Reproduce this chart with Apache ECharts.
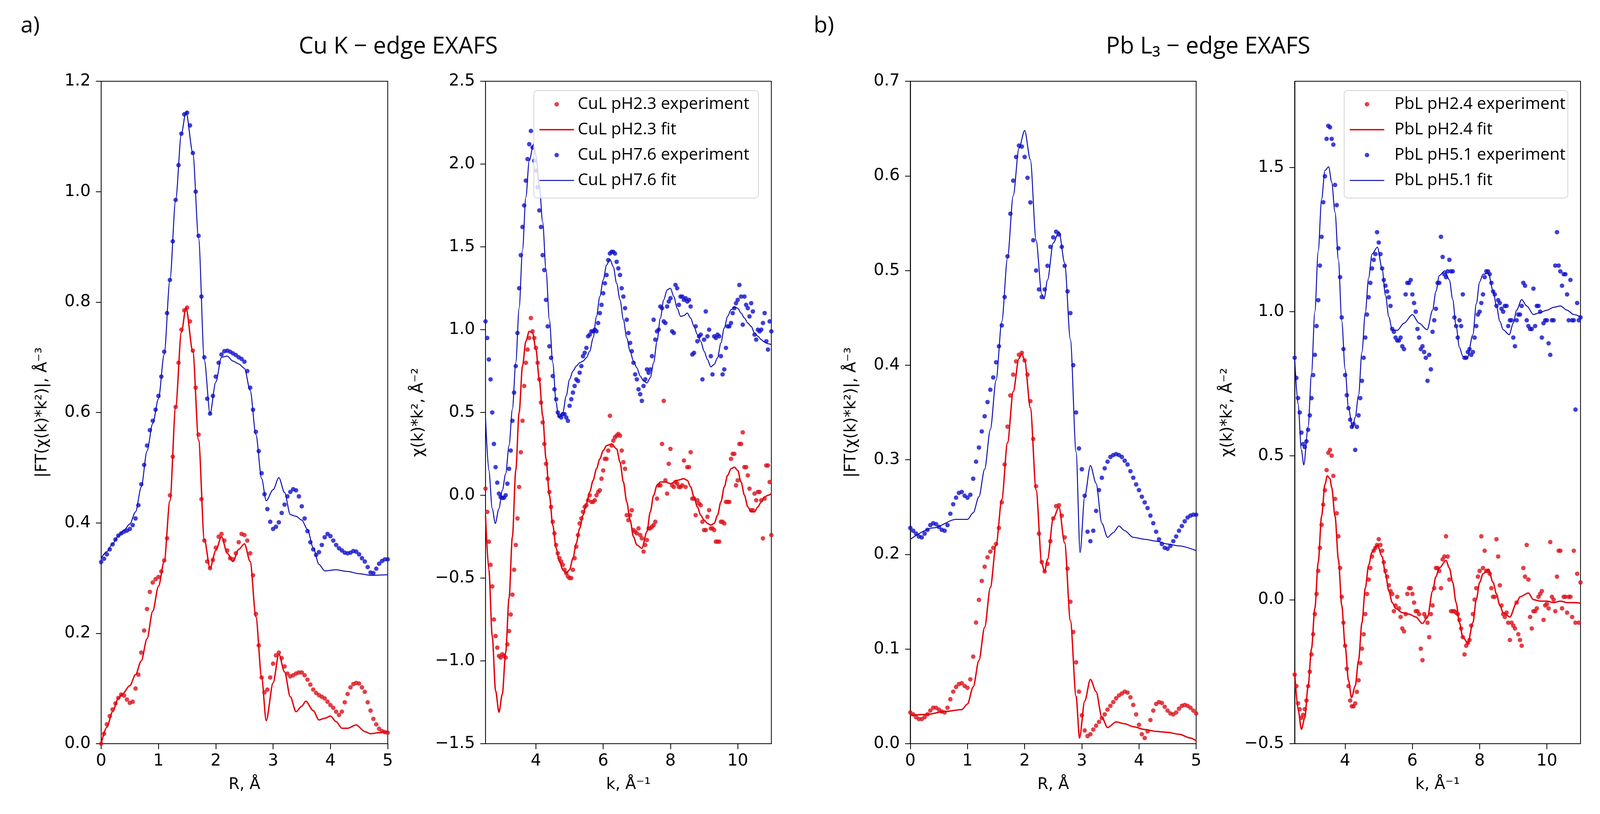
<!DOCTYPE html>
<html>
<head>
<meta charset="utf-8">
<script src="https://cdn.jsdelivr.net/npm/echarts@6/dist/echarts.min.js"></script>
<style>
  html, body { margin: 0; padding: 0; background: #fff; overflow: hidden; }
  #chart { width: 100vw; height: 100vh; }
</style>
</head>
<body>
<div id="chart"></div>
<script>
// ---- data ----
// R-space panels: experiment sampled every 0.05 Å from R = 0
const rStart = 0, rStep = 0.05;
// k-space panels: experiment sampled every 0.05 Å^-1 from k = 2.5
const kStart = 2.5, kStep = 0.05;

const cuRBlueExp = [
  0.329,0.335,0.343,0.352,0.361,0.370,0.377,0.381,0.384,0.386,
  0.389,0.396,0.408,0.432,0.470,0.505,0.540,0.568,0.585,0.605,
  0.630,0.665,0.710,0.780,0.840,0.910,0.985,1.048,1.105,1.140,
  1.143,1.120,1.070,1.000,0.920,0.810,0.700,0.625,0.598,0.630,
  0.665,0.690,0.705,0.711,0.712,0.710,0.707,0.704,0.700,0.697,
  0.692,0.675,0.645,0.605,0.565,0.530,0.490,0.452,0.425,0.402,
  0.389,0.393,0.401,0.418,0.433,0.448,0.456,0.461,0.459,0.448,
  0.430,0.408,0.385,0.365,0.352,0.342,0.347,0.360,0.374,0.380,
  0.376,0.368,0.360,0.354,0.350,0.346,0.345,0.346,0.349,0.348,
  0.343,0.336,0.330,0.320,0.310,0.309,0.317,0.326,0.331,0.334,
  0.334
];
const cuRRedExp = [
  0.000,0.018,0.035,0.050,0.062,0.073,0.083,0.089,0.087,0.080,
  0.074,0.076,0.100,0.125,0.165,0.205,0.244,0.275,0.292,0.298,
  0.302,0.312,0.332,0.372,0.450,0.520,0.610,0.690,0.750,0.785,
  0.790,0.765,0.712,0.645,0.560,0.443,0.368,0.330,0.318,0.333,
  0.355,0.375,0.380,0.368,0.350,0.336,0.334,0.345,0.365,0.380,
  0.378,0.368,0.345,0.305,0.235,0.178,0.120,0.093,0.098,0.120,
  0.145,0.160,0.165,0.155,0.140,0.127,0.122,0.124,0.127,0.129,
  0.129,0.124,0.116,0.107,0.098,0.092,0.088,0.085,0.082,0.076,
  0.070,0.065,0.058,0.052,0.058,0.075,0.090,0.102,0.108,0.110,
  0.109,0.102,0.094,0.075,0.060,0.045,0.035,0.027,0.023,0.021,
  0.020
];
const cuRBlueFit = [[0,0.336],[0.1,0.348],[0.2,0.362],[0.3,0.376],[0.4,0.387],[0.5,0.398],[0.6,0.42],[0.7,0.465],[0.8,0.53],[0.9,0.58],[1.0,0.625],[1.1,0.705],[1.2,0.84],[1.3,0.985],[1.4,1.105],[1.48,1.145],[1.6,1.07],[1.7,0.915],[1.8,0.695],[1.9,0.598],[2.0,0.655],[2.1,0.7],[2.2,0.702],[2.3,0.693],[2.4,0.688],[2.5,0.68],[2.6,0.64],[2.7,0.56],[2.8,0.48],[2.88,0.44],[3.0,0.46],[3.1,0.482],[3.2,0.455],[3.3,0.415],[3.4,0.412],[3.5,0.405],[3.6,0.388],[3.7,0.355],[3.8,0.325],[3.9,0.313],[4.1,0.315],[4.3,0.312],[4.5,0.308],[4.7,0.305],[5.0,0.306]];
const cuRRedFit = [[0,0],[0.1,0.03],[0.2,0.058],[0.3,0.082],[0.37,0.09],[0.5,0.105],[0.6,0.125],[0.7,0.15],[0.8,0.19],[0.9,0.24],[1.0,0.285],[1.1,0.33],[1.2,0.44],[1.3,0.61],[1.4,0.745],[1.48,0.79],[1.6,0.71],[1.7,0.55],[1.8,0.37],[1.9,0.318],[2.0,0.35],[2.1,0.375],[2.2,0.345],[2.3,0.33],[2.4,0.352],[2.5,0.362],[2.6,0.33],[2.7,0.23],[2.8,0.12],[2.88,0.042],[3.0,0.11],[3.1,0.162],[3.2,0.13],[3.3,0.085],[3.4,0.058],[3.5,0.068],[3.57,0.077],[3.7,0.06],[3.8,0.043],[3.9,0.046],[4.0,0.05],[4.1,0.04],[4.2,0.028],[4.3,0.028],[4.45,0.034],[4.6,0.022],[4.7,0.018],[4.85,0.02],[5.0,0.022]];

const cuKBlueExp = [
  1.05,0.95,0.82,0.70,0.50,0.31,0.17,0.076,0.01,-0.01,
  -0.016,-0.015,0.0,0.07,0.16,0.27,0.45,0.62,0.78,0.98,
  1.25,1.45,1.62,1.75,1.90,2.03,2.12,2.20,2.10,2.02,
  1.96,1.86,1.72,1.62,1.45,1.36,1.18,1.02,0.90,0.83,
  0.72,0.64,0.58,0.50,0.48,0.47,0.49,0.49,0.47,0.45,
  0.54,0.58,0.62,0.66,0.70,0.69,0.74,0.78,0.84,0.86,
  0.89,0.96,0.97,0.99,0.99,1.00,0.99,1.04,1.10,1.15,
  1.22,1.28,1.33,1.42,1.46,1.47,1.47,1.46,1.41,1.37,
  1.33,1.25,1.20,1.13,1.06,0.98,0.92,0.87,0.80,0.73,
  0.70,0.64,0.61,0.57,0.66,0.70,0.76,0.74,0.76,0.84,
  1.06,0.94,0.99,1.00,1.14,1.13,1.05,1.04,1.14,1.17,
  1.19,0.99,0.98,1.27,1.25,1.15,1.20,1.20,1.18,1.19,
  1.17,1.18,1.14,0.85,0.86,1.02,0.93,0.96,0.97,0.70,
  0.94,1.11,0.96,1.00,0.84,0.73,0.96,0.95,0.97,0.96,
  0.84,0.73,0.76,0.89,1.02,1.02,1.04,1.10,1.13,1.16,
  1.18,1.27,1.20,1.03,1.20,1.15,1.13,1.08,1.16,1.11,
  0.97,0.94,1.00,0.99,1.00,1.04,1.10,0.93,0.88,1.05,
  0.99
];
const cuKRedExp = [
  0.04,-0.10,-0.28,-0.42,-0.55,-0.75,-0.85,-0.92,-0.97,-0.98,
  -0.96,-0.97,-0.98,-0.90,-0.82,-0.72,-0.60,-0.45,-0.30,-0.14,
  0.05,0.26,0.45,0.66,0.80,0.88,0.95,1.07,0.99,0.95,
  0.89,0.80,0.70,0.56,0.44,0.31,0.19,0.10,0.02,-0.07,
  -0.16,-0.23,-0.30,-0.35,-0.38,-0.40,-0.42,-0.45,-0.47,-0.49,
  -0.50,-0.50,-0.45,-0.38,-0.31,-0.24,-0.17,-0.14,-0.10,-0.07,
  -0.06,-0.03,0.00,-0.04,-0.04,-0.03,0.00,0.02,0.03,0.10,
  0.15,0.22,0.22,0.27,0.48,0.30,0.33,0.35,0.36,0.37,
  0.36,0.27,0.20,0.16,-0.12,-0.15,-0.12,-0.09,-0.21,-0.22,
  -0.23,-0.20,-0.24,-0.26,-0.34,-0.30,-0.27,-0.20,-0.20,-0.19,
  -0.18,-0.16,-0.02,0.06,0.06,0.31,0.57,0.09,0.01,0.19,
  0.28,0.06,0.05,0.08,0.07,0.05,0.05,0.06,0.21,0.05,
  0.17,0.17,0.26,-0.02,-0.02,-0.12,-0.03,-0.05,-0.06,-0.16,
  -0.21,-0.21,-0.13,-0.09,-0.20,-0.20,-0.21,-0.28,-0.28,-0.28,
  -0.16,-0.16,-0.17,-0.04,-0.04,-0.04,0.22,0.25,0.25,0.06,
  0.09,0.31,0.31,0.38,0.17,0.17,0.12,0.04,-0.09,-0.09,
  0.01,-0.03,0.02,0.02,-0.03,-0.26,-0.02,0.18,0.18,0.08,
  -0.24
];
const cuKBlueFit = [[2.5,0.47],[2.6,0.15],[2.7,-0.08],[2.79,-0.17],[2.9,-0.08],[3.0,0.03],[3.1,0.13],[3.2,0.3],[3.3,0.52],[3.4,0.8],[3.5,1.13],[3.6,1.48],[3.7,1.8],[3.8,2.02],[3.93,2.12],[4.0,2.05],[4.1,1.87],[4.2,1.65],[4.3,1.36],[4.4,1.06],[4.5,0.8],[4.6,0.56],[4.67,0.47],[4.8,0.5],[4.9,0.6],[5.0,0.7],[5.1,0.75],[5.2,0.78],[5.3,0.8],[5.4,0.81],[5.5,0.83],[5.6,0.87],[5.7,0.95],[5.8,1.08],[5.9,1.2],[6.0,1.3],[6.1,1.39],[6.2,1.425],[6.3,1.38],[6.4,1.28],[6.5,1.18],[6.6,1.06],[6.7,0.95],[6.8,0.87],[6.9,0.81],[7.0,0.77],[7.1,0.72],[7.2,0.69],[7.3,0.678],[7.4,0.71],[7.5,0.8],[7.6,0.93],[7.7,1.07],[7.8,1.18],[7.9,1.24],[8.0,1.25],[8.1,1.2],[8.2,1.13],[8.3,1.08],[8.4,1.085],[8.5,1.1],[8.6,1.07],[8.7,1.02],[8.8,0.97],[8.9,0.93],[9.0,0.87],[9.1,0.82],[9.2,0.775],[9.3,0.79],[9.4,0.83],[9.5,0.92],[9.6,1.01],[9.7,1.08],[9.8,1.12],[9.9,1.135],[10.0,1.13],[10.1,1.1],[10.2,1.07],[10.3,1.04],[10.4,1.02],[10.5,0.98],[10.6,0.96],[10.7,0.94],[10.8,0.925],[10.9,0.915],[11.0,0.91]];
const cuKRedFit = [[2.5,-0.12],[2.6,-0.45],[2.7,-0.85],[2.8,-1.18],[2.9,-1.31],[3.0,-1.2],[3.1,-0.95],[3.2,-0.62],[3.3,-0.25],[3.4,0.15],[3.5,0.5],[3.6,0.78],[3.7,0.93],[3.8,0.99],[3.9,0.98],[4.0,0.88],[4.1,0.7],[4.2,0.48],[4.3,0.22],[4.4,0.0],[4.5,-0.18],[4.6,-0.32],[4.7,-0.4],[4.8,-0.45],[4.9,-0.47],[5.0,-0.45],[5.1,-0.38],[5.2,-0.29],[5.3,-0.2],[5.4,-0.12],[5.5,-0.05],[5.6,0.02],[5.7,0.09],[5.8,0.16],[5.9,0.22],[6.0,0.27],[6.1,0.3],[6.25,0.31],[6.4,0.28],[6.5,0.2],[6.6,0.08],[6.7,-0.04],[6.8,-0.15],[6.9,-0.25],[7.0,-0.3],[7.15,-0.32],[7.3,-0.22],[7.4,-0.1],[7.5,0.0],[7.6,0.06],[7.7,0.08],[7.85,0.08],[8.0,0.07],[8.2,0.09],[8.4,0.1],[8.5,0.09],[8.6,0.05],[8.7,-0.01],[8.8,-0.07],[8.9,-0.12],[9.0,-0.15],[9.1,-0.17],[9.2,-0.18],[9.3,-0.17],[9.4,-0.12],[9.5,-0.04],[9.6,0.05],[9.7,0.12],[9.8,0.16],[9.9,0.17],[10.0,0.15],[10.1,0.08],[10.2,0.0],[10.3,-0.07],[10.4,-0.1],[10.5,-0.1],[10.6,-0.07],[10.7,-0.04],[10.8,-0.01],[10.9,0.0],[11.0,0.01]];

const pbRBlueExp = [
  0.228,0.225,0.222,0.219,0.218,0.222,0.226,0.231,0.233,0.232,
  0.229,0.226,0.225,0.231,0.243,0.253,0.260,0.265,0.266,0.262,
  0.260,0.263,0.280,0.298,0.313,0.330,0.346,0.361,0.374,0.387,
  0.403,0.420,0.442,0.472,0.515,0.560,0.595,0.620,0.632,0.631,
  0.620,0.598,0.572,0.532,0.500,0.480,0.472,0.480,0.505,0.525,
  0.535,0.541,0.538,0.525,0.505,0.478,0.455,0.400,0.350,0.312,
  0.290,0.262,0.224,0.214,0.225,0.246,0.268,0.281,0.291,0.298,
  0.303,0.305,0.306,0.305,0.303,0.299,0.295,0.288,0.281,0.274,
  0.268,0.261,0.255,0.249,0.241,0.233,0.224,0.216,0.211,0.207,
  0.206,0.209,0.214,0.219,0.225,0.230,0.235,0.239,0.241,0.242,
  0.242
];
const pbRRedExp = [
  0.033,0.031,0.028,0.026,0.026,0.028,0.031,0.035,0.038,0.038,
  0.036,0.034,0.033,0.038,0.047,0.055,0.060,0.063,0.064,0.061,
  0.059,0.068,0.092,0.128,0.152,0.172,0.187,0.197,0.203,0.207,
  0.211,0.228,0.255,0.295,0.335,0.368,0.390,0.404,0.411,0.413,
  0.405,0.390,0.362,0.322,0.272,0.222,0.192,0.182,0.190,0.214,
  0.238,0.251,0.252,0.241,0.218,0.185,0.150,0.118,0.086,0.055,
  0.030,0.014,0.008,0.010,0.015,0.019,0.023,0.027,0.031,0.036,
  0.040,0.044,0.048,0.051,0.053,0.055,0.054,0.049,0.041,0.031,
  0.020,0.010,0.006,0.013,0.025,0.035,0.042,0.044,0.043,0.039,
  0.035,0.032,0.031,0.033,0.037,0.040,0.041,0.040,0.038,0.035,
  0.032
];
const pbRBlueFit = [[0,0.216],[0.4,0.228],[0.8,0.237],[1.0,0.237],[1.1,0.244],[1.2,0.261],[1.3,0.29],[1.4,0.332],[1.5,0.384],[1.6,0.446],[1.7,0.513],[1.8,0.579],[1.9,0.629],[2.0,0.648],[2.1,0.617],[2.2,0.532],[2.3,0.475],[2.34,0.47],[2.4,0.49],[2.5,0.529],[2.6,0.541],[2.7,0.508],[2.8,0.427],[2.9,0.308],[2.97,0.202],[3.05,0.261],[3.15,0.294],[3.25,0.275],[3.35,0.233],[3.45,0.218],[3.55,0.223],[3.65,0.23],[3.75,0.225],[3.9,0.218],[4.1,0.216],[4.3,0.214],[4.5,0.211],[4.7,0.209],[5.0,0.204]];
const pbRRedFit = [[0,0.03],[0.3,0.031],[0.6,0.034],[0.9,0.036],[1.0,0.042],[1.1,0.06],[1.2,0.088],[1.3,0.123],[1.4,0.165],[1.5,0.21],[1.6,0.258],[1.7,0.318],[1.8,0.372],[1.9,0.407],[1.95,0.412],[2.0,0.405],[2.1,0.355],[2.2,0.268],[2.3,0.19],[2.35,0.182],[2.4,0.195],[2.5,0.238],[2.6,0.25],[2.7,0.212],[2.8,0.13],[2.9,0.05],[2.96,0.006],[3.05,0.045],[3.15,0.068],[3.25,0.055],[3.35,0.028],[3.45,0.017],[3.6,0.023],[3.75,0.021],[3.9,0.018],[4.1,0.015],[4.3,0.013],[4.5,0.012],[4.7,0.01],[4.9,0.006],[5.0,0.003]];

const pbKBlueExp = [
  0.84,0.77,0.70,0.65,0.58,0.54,0.53,0.55,0.59,0.64,
  0.70,0.78,0.85,0.95,1.04,1.16,1.26,1.38,1.47,1.60,
  1.645,1.64,1.60,1.58,1.44,1.37,1.22,1.12,0.98,0.87,
  0.78,0.71,0.665,0.625,0.60,0.61,0.52,0.60,0.64,0.70,
  0.76,0.84,0.91,0.99,1.05,1.10,1.15,1.18,1.20,1.276,
  1.24,1.20,1.15,1.11,1.09,1.07,1.05,1.02,0.94,0.93,
  0.91,0.90,0.90,0.91,0.88,0.87,1.06,1.10,1.10,1.11,
  1.06,1.03,1.00,0.94,0.91,0.87,0.88,0.86,0.84,0.76,
  0.85,0.80,0.93,0.97,1.01,1.10,1.10,1.26,1.19,1.13,
  1.12,1.14,1.18,1.14,1.14,0.98,0.95,0.91,0.97,0.95,
  1.06,0.84,0.84,0.86,0.87,0.85,0.86,0.91,0.95,0.99,
  1.00,1.03,1.06,1.12,1.14,1.14,1.13,1.10,1.07,1.06,
  1.02,1.04,1.03,1.01,1.00,1.02,1.02,0.95,0.97,0.97,
  0.91,0.88,0.97,0.99,0.99,1.02,1.10,1.09,0.97,0.95,
  0.94,0.94,1.08,0.95,1.02,1.02,1.00,0.91,0.96,0.97,
  0.97,0.89,0.85,0.97,0.97,1.16,1.276,1.16,1.14,1.09,
  1.13,1.13,1.06,0.97,1.11,0.97,0.97,0.66,1.03,0.97,
  0.98
];
const pbKRedExp = [
  -0.26,-0.30,-0.36,-0.38,-0.41,-0.40,-0.38,-0.35,-0.30,-0.25,
  -0.19,-0.12,-0.05,0.02,0.10,0.18,0.26,0.33,0.38,0.45,
  0.51,0.52,0.50,0.43,0.35,0.30,0.22,0.11,0.01,-0.08,
  -0.16,-0.24,-0.30,-0.35,-0.37,-0.37,-0.36,-0.32,-0.28,-0.22,
  -0.17,-0.12,-0.05,0.02,0.07,0.11,0.15,0.17,0.18,0.19,
  0.21,0.19,0.17,0.13,0.10,0.08,0.05,0.03,0.02,-0.04,
  -0.02,0.01,-0.03,-0.06,-0.10,-0.11,-0.05,0.02,0.04,0.04,
  0.02,-0.01,-0.04,-0.04,-0.05,-0.17,-0.21,-0.05,-0.06,-0.08,
  -0.13,-0.05,-0.02,0.04,0.11,0.11,0.10,0.04,0.14,0.15,
  0.22,0.15,0.07,-0.04,-0.04,-0.04,-0.045,-0.05,-0.07,-0.10,
  -0.13,-0.19,-0.16,-0.15,-0.14,-0.09,-0.05,0.00,0.04,0.08,
  0.10,0.22,0.11,0.17,0.10,0.10,0.09,0.04,0.01,0.01,
  0.21,0.15,0.05,-0.02,-0.05,-0.06,-0.045,-0.08,-0.14,-0.08,
  -0.09,-0.10,-0.01,-0.12,-0.14,-0.16,0.11,0.08,0.19,0.07,
  -0.06,-0.10,-0.04,-0.04,-0.03,0.01,0.02,0.03,-0.07,-0.02,
  -0.015,-0.03,0.20,0.01,0.0,-0.04,0.08,0.17,0.17,-0.03,
  0.01,0.01,-0.045,0.01,0.01,-0.06,0.17,-0.08,0.09,-0.08,
  0.06
];
const pbKBlueFit = [[2.5,0.84],[2.6,0.68],[2.7,0.52],[2.77,0.468],[2.9,0.60],[3.0,0.785],[3.1,1.0],[3.2,1.21],[3.3,1.39],[3.4,1.49],[3.51,1.503],[3.6,1.45],[3.7,1.345],[3.8,1.18],[3.9,0.967],[4.0,0.80],[4.1,0.665],[4.22,0.597],[4.3,0.634],[4.4,0.71],[4.5,0.86],[4.6,0.997],[4.7,1.118],[4.8,1.2],[4.96,1.224],[5.1,1.148],[5.2,1.057],[5.3,0.982],[5.4,0.937],[5.55,0.935],[5.75,0.96],[6.0,0.99],[6.2,0.96],[6.44,0.937],[6.6,1.005],[6.7,1.07],[6.8,1.125],[6.96,1.142],[7.1,1.11],[7.2,1.042],[7.3,0.95],[7.4,0.876],[7.5,0.845],[7.63,0.838],[7.8,0.92],[7.9,1.027],[8.0,1.103],[8.1,1.13],[8.26,1.133],[8.4,1.072],[8.5,1.02],[8.6,0.967],[8.7,0.937],[8.88,0.92],[9.0,0.96],[9.1,1.005],[9.25,1.042],[9.4,1.02],[9.6,0.99],[9.8,0.997],[10.0,1.005],[10.2,1.015],[10.4,1.02],[10.6,1.005],[10.8,0.99],[11.0,0.982]];
const pbKRedFit = [[2.5,-0.25],[2.6,-0.38],[2.7,-0.45],[2.8,-0.41],[2.9,-0.30],[3.0,-0.17],[3.1,-0.03],[3.2,0.13],[3.3,0.29],[3.4,0.40],[3.47,0.43],[3.55,0.42],[3.6,0.39],[3.7,0.29],[3.8,0.14],[3.9,-0.02],[4.0,-0.16],[4.1,-0.28],[4.19,-0.34],[4.3,-0.30],[4.4,-0.21],[4.5,-0.08],[4.6,0.04],[4.7,0.12],[4.8,0.165],[4.96,0.189],[5.1,0.15],[5.2,0.09],[5.3,0.03],[5.4,-0.01],[5.5,-0.03],[5.7,-0.045],[5.9,-0.05],[6.1,-0.06],[6.3,-0.083],[6.45,-0.06],[6.6,0.03],[6.7,0.08],[6.8,0.11],[7.0,0.136],[7.1,0.11],[7.2,0.06],[7.3,-0.01],[7.4,-0.08],[7.5,-0.13],[7.65,-0.151],[7.8,-0.08],[7.9,0.0],[8.0,0.06],[8.1,0.09],[8.26,0.106],[8.4,0.06],[8.5,0.02],[8.6,-0.02],[8.7,-0.045],[8.9,-0.06],[9.1,-0.01],[9.2,0.01],[9.45,0.023],[9.6,0.0],[9.8,-0.005],[10.0,-0.005],[10.2,-0.01],[10.4,-0.005],[10.6,-0.01],[10.8,-0.01],[11.0,-0.012]];

// tick values
const rTicks = [0, 1, 2, 3, 4, 5];
const kTicks = [4, 6, 8, 10];
const cuRyTicks = [0, 0.2, 0.4, 0.6, 0.8, 1.0, 1.2];
const cuKyTicks = [-1.5, -1.0, -0.5, 0, 0.5, 1.0, 1.5, 2.0, 2.5];
const pbRyTicks = [0, 0.1, 0.2, 0.3, 0.4, 0.5, 0.6, 0.7];
const pbKyTicks = [-0.5, 0, 0.5, 1.0, 1.5];

const names = {
  cuRed: 'CuL pH2.3 experiment', cuRedFit: 'CuL pH2.3 fit',
  cuBlue: 'CuL pH7.6 experiment', cuBlueFit: 'CuL pH7.6 fit',
  pbRed: 'PbL pH2.4 experiment', pbRedFit: 'PbL pH2.4 fit',
  pbBlue: 'PbL pH5.1 experiment', pbBlueFit: 'PbL pH5.1 fit'
};

// ---- chart ----
// layout is measured on a 4271 x 2084 figure; scale it to the real window
const dom = document.getElementById('chart');
const SX = (dom.clientWidth || 4271) / 4271;
const SY = (dom.clientHeight || 2084) / 2084;
const SF = Math.min(SX, SY);
const X = v => v * SX, Y = v => v * SY, F = v => v * SF;

const RED_DOT = '#dc101a', RED_LINE = '#e4000a';
const BLUE_DOT = '#1010cc', BLUE_LINE = '#0c0cb0';

function onGrid(start, step, ys) {
  return ys.map((y, i) => [+(start + i * step).toFixed(2), y]);
}
function dec(n) {
  return v => (v < 0 ? '\u2212' : '') + Math.abs(v).toFixed(n);
}

const tickText = { fontFamily: 'DejaVu Sans', fontSize: F(44), color: '#000' };
const nameText = { fontFamily: 'DejaVu Sans', fontSize: F(42), color: '#000' };

function xAxis(gi, min, max, ticks, name) {
  return {
    type: 'value', gridIndex: gi, min: min, max: max,
    name: name, nameLocation: 'middle', nameGap: Y(86), nameTextStyle: nameText,
    axisLine: { show: true, onZero: false, lineStyle: { color: '#000', width: 2 } },
    axisTick: { show: true, inside: false, length: Y(14), customValues: ticks, lineStyle: { color: '#000', width: 2 } },
    axisLabel: Object.assign({ customValues: ticks, margin: Y(24), formatter: dec(0) }, tickText),
    splitLine: { show: false }
  };
}
function yAxis(gi, min, max, ticks, name, gap) {
  return {
    type: 'value', gridIndex: gi, min: min, max: max,
    name: name, nameLocation: 'middle', nameGap: X(gap), nameTextStyle: nameText,
    axisLine: { show: true, onZero: false, lineStyle: { color: '#000', width: 2 } },
    axisTick: { show: true, inside: false, length: X(14), customValues: ticks, lineStyle: { color: '#000', width: 2 } },
    axisLabel: Object.assign({ customValues: ticks, margin: X(28), formatter: dec(1) }, tickText),
    splitLine: { show: false }
  };
}
function exp(name, gi, data, color) {
  return {
    name: name, type: 'scatter', xAxisIndex: gi, yAxisIndex: gi, data: data,
    symbol: 'circle', symbolSize: F(12), itemStyle: { color: color }, z: 2
  };
}
function fit(name, gi, data, color, width) {
  return {
    name: name, type: 'line', xAxisIndex: gi, yAxisIndex: gi, data: data,
    symbol: 'none', smooth: 0.3, smoothMonotone: 'x',
    lineStyle: { color: color, width: width }, itemStyle: { color: color }, z: 3
  };
}
// legend handles: a dot for the experiments, a plain stroke for the fits
const DOT = 'circle';
const THICK = 'path://M0,0L100,0L100,4L0,4Z';
const THIN = 'path://M0,0L100,0L100,3L0,3Z';
function legend(left, textPad, rightPad, list) {
  return {
    left: X(left), top: Y(232), orient: 'vertical',
    padding: [Y(10), X(rightPad), Y(20), X(15)], itemGap: Y(15), itemWidth: X(92), itemHeight: F(12),
    backgroundColor: 'rgba(255,255,255,0.8)', borderColor: '#d4d4d4', borderWidth: 2, borderRadius: 8,
    textStyle: { fontFamily: 'Open Sans', fontSize: F(44), color: '#000', lineHeight: Y(50), padding: [0, 0, 0, X(textPad)] },
    data: list.map((n, i) => ({ name: n, icon: [DOT, THICK, DOT, THIN][i] })), z: 10
  };
}
function label(x, y, text, size, centred) {
  const style = { text: text, font: F(size) + 'px "Open Sans", "DejaVu Sans"', fill: '#000' };
  if (centred) Object.assign(style, { align: 'center', verticalAlign: 'middle', textAlign: 'center', textVerticalAlign: 'middle' });
  return { type: 'text', x: X(x), y: Y(y), style: style };
}

const chart = echarts.init(dom, null, { renderer: 'canvas' });
chart.setOption({
  backgroundColor: '#fff',
  animation: false,
  grid: [
    { left: 270, top: 208, width: 765, height: 1696 },
    { left: 1296, top: 208, width: 763, height: 1696 },
    { left: 2430, top: 208, width: 763, height: 1696 },
    { left: 3456, top: 208, width: 763, height: 1696 }
  ].map(g => ({
    show: true, borderColor: '#000', borderWidth: 2, backgroundColor: 'transparent',
    left: X(g.left), top: Y(g.top), width: X(g.width), height: Y(g.height)
  })),
  xAxis: [
    xAxis(0, 0, 5, rTicks, 'R, \u00c5'),
    xAxis(1, 2.5, 11, kTicks, 'k, \u00c5\u207b\u00b9'),
    xAxis(2, 0, 5, rTicks, 'R, \u00c5'),
    xAxis(3, 2.5, 11, kTicks, 'k, \u00c5\u207b\u00b9')
  ],
  yAxis: [
    yAxis(0, 0, 1.2, cuRyTicks, '|FT(\u03c7(k)*k\u00b2)|, \u00c5\u207b\u00b3', 136),
    yAxis(1, -1.5, 2.5, cuKyTicks, '\u03c7(k)*k\u00b2, \u00c5\u207b\u00b2', 158),
    yAxis(2, 0, 0.7, pbRyTicks, '|FT(\u03c7(k)*k\u00b2)|, \u00c5\u207b\u00b3', 136),
    yAxis(3, -0.5, 1.8, pbKyTicks, '\u03c7(k)*k\u00b2, \u00c5\u207b\u00b2', 158)
  ],
  legend: [
    legend(1425, 5, 24, [names.cuRed, names.cuRedFit, names.cuBlue, names.cuBlueFit]),
    legend(3588, 22, 6, [names.pbRed, names.pbRedFit, names.pbBlue, names.pbBlueFit])
  ],
  graphic: [
    label(55, 38, 'a)', 60, false),
    label(2172, 38, 'b)', 60, false),
    label(1063, 120, 'Cu K \u2212 edge EXAFS', 62, true),
    label(3225, 120, 'Pb L\u2083 \u2212 edge EXAFS', 62, true)
  ],
  series: [
    exp(names.cuRed, 0, onGrid(rStart, rStep, cuRRedExp), RED_DOT),
    fit(names.cuRedFit, 0, cuRRedFit, RED_LINE, 3.5),
    exp(names.cuBlue, 0, onGrid(rStart, rStep, cuRBlueExp), BLUE_DOT),
    fit(names.cuBlueFit, 0, cuRBlueFit, BLUE_LINE, 2.5),

    exp(names.cuRed, 1, onGrid(kStart, kStep, cuKRedExp), RED_DOT),
    fit(names.cuRedFit, 1, cuKRedFit, RED_LINE, 3.5),
    exp(names.cuBlue, 1, onGrid(kStart, kStep, cuKBlueExp), BLUE_DOT),
    fit(names.cuBlueFit, 1, cuKBlueFit, BLUE_LINE, 2.5),

    exp(names.pbRed, 2, onGrid(rStart, rStep, pbRRedExp), RED_DOT),
    fit(names.pbRedFit, 2, pbRRedFit, RED_LINE, 3.5),
    exp(names.pbBlue, 2, onGrid(rStart, rStep, pbRBlueExp), BLUE_DOT),
    fit(names.pbBlueFit, 2, pbRBlueFit, BLUE_LINE, 2.5),

    exp(names.pbRed, 3, onGrid(kStart, kStep, pbKRedExp), RED_DOT),
    fit(names.pbRedFit, 3, pbKRedFit, RED_LINE, 3.5),
    exp(names.pbBlue, 3, onGrid(kStart, kStep, pbKBlueExp), BLUE_DOT),
    fit(names.pbBlueFit, 3, pbKBlueFit, BLUE_LINE, 2.5)
  ]
});
</script>
</body>
</html>
